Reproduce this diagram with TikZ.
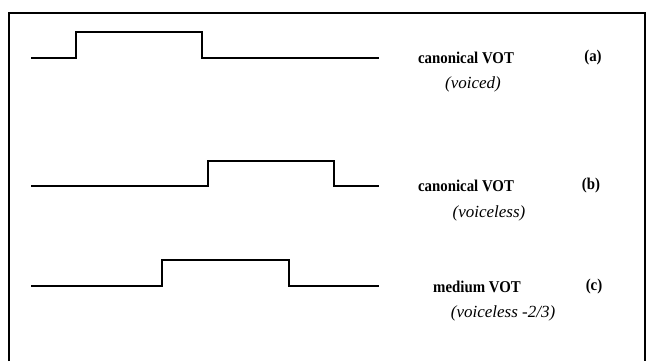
\documentclass[tikz,border=0pt]{standalone}
\usepackage{fontspec}
\setmainfont{Liberation Serif}
\newfontfamily\labfont[FakeStretch=0.9]{Liberation Serif}
\begin{document}
\begin{tikzpicture}[x=1pt,y=-1pt,
  wave/.style={line width=1.6pt,line join=miter},
  frameline/.style={line width=1.8pt},
  lab/.style={font=\labfont\bfseries\fontsize{16.5}{18}\selectfont,inner sep=0pt},
  sub/.style={font=\itshape\fontsize{17}{19}\selectfont,inner sep=0pt}]
\useasboundingbox (0,0) rectangle (655,361);
\coordinate (fbl) at (9,361);
\coordinate (ftl) at (9,13);
\coordinate (ftr) at (645,13);
\coordinate (fbr) at (645,361);
\draw[frameline] (fbl) -- (ftl) -- (ftr) -- (fbr);
% (a)
\coordinate (a0) at (31,58);
\coordinate (a1) at (379,58);
\draw[wave] (a0) -- (76,58) -- (76,32) -- (202,32) -- (202,58) -- (a1);
% (b)
\coordinate (b0) at (31,186);
\coordinate (b1) at (379,186);
\draw[wave] (b0) -- (208,186) -- (208,161) -- (334,161) -- (334,186) -- (b1);
% (c)
\coordinate (c0) at (31,286);
\coordinate (c1) at (379,286);
\draw[wave] (c0) -- (162,286) -- (162,260) -- (289,260) -- (289,286) -- (c1);
% labels
\node[lab] (ta) at (466,58) {canonical VOT};
\node[lab] (la) at (593,58) {(a)};
\node[sub] (sa) at (473,84) {(voiced)};
\node[lab] (tb) at (466,186) {canonical VOT};
\node[lab] (lb) at (591,186) {(b)};
\node[sub] (sb) at (489,213) {(voiceless)};
\node[lab] (tc) at (477,287) {medium VOT};
\node[lab] (lc) at (594,287) {(c)};
\node[sub] (sc) at (503,313) {(voiceless -2/3)};
\end{tikzpicture}
\end{document}
